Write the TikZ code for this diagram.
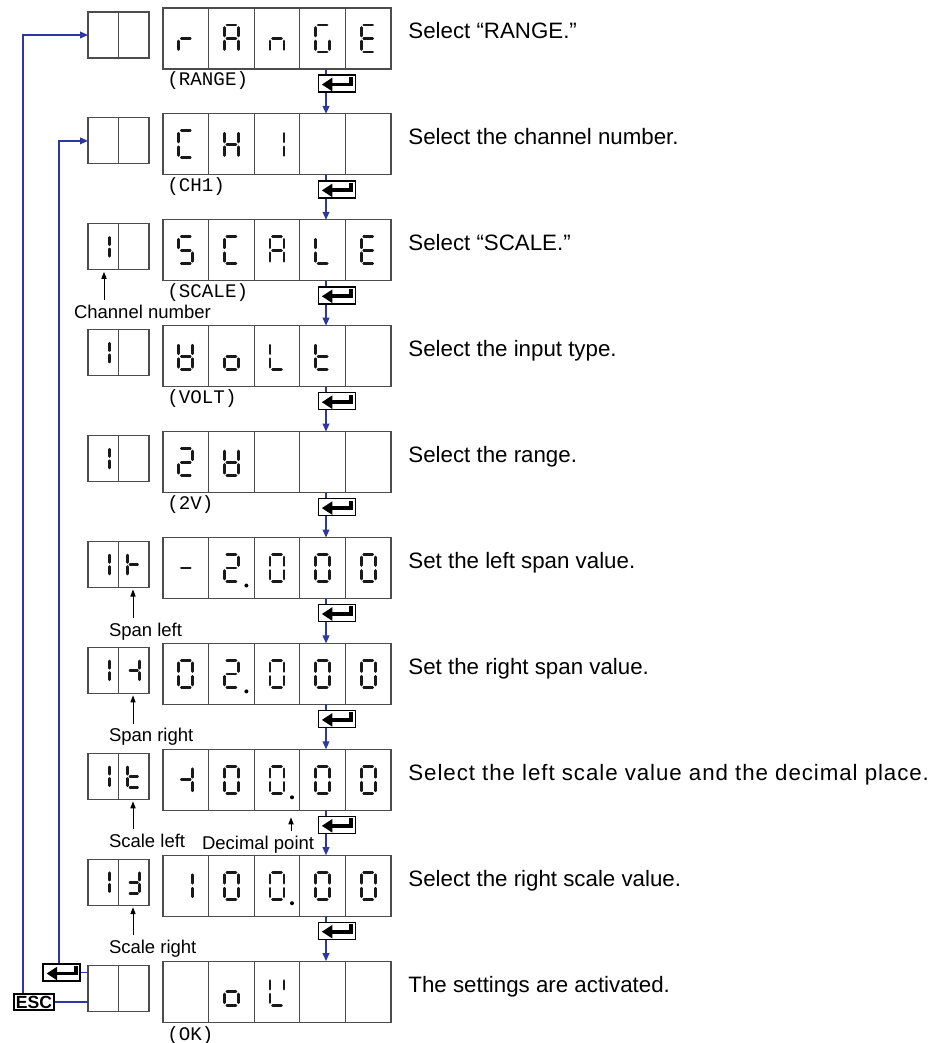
\documentclass[tikz,border=0pt]{standalone}
\usepackage{fontspec}
\setmainfont{Liberation Sans}
\setmonofont{Liberation Mono}
\usetikzlibrary{arrows.meta, positioning, calc}

\definecolor{flowblue}{RGB}{45,55,160}

% seven segment bars (pixel units, y down)
\newcommand{\dsega}{\draw[segbar] (-4.5,-13.5) -- (4.5,-13.5);}
\newcommand{\dsegb}{\draw[segbar] (7,-11) -- (7,-2.5);}
\newcommand{\dsegc}{\draw[segbar] (7,2.5) -- (7,11);}
\newcommand{\dsegd}{\draw[segbar] (-4.5,13.5) -- (4.5,13.5);}
\newcommand{\dsege}{\draw[segbar] (-7,2.5) -- (-7,11);}
\newcommand{\dsegf}{\draw[segbar] (-7,-11) -- (-7,-2.5);}
\newcommand{\dsegg}{\draw[segbar] (-4.5,0) -- (4.5,0);}
\newcommand{\dsegp}{\fill (15,17.5) circle (2);}
\newcommand{\segdigit}[3][1]{%
  \begin{scope}[shift={#2}, scale=#1]
    \edef\seglist{#3}
    \foreach \s in \seglist {\csname dseg\s\endcsname}
  \end{scope}}
% return key glyph
\newcommand{\enterglyph}[1]{%
  \begin{scope}[shift={(#1.center)}, x=1pt, y=1pt]
    \fill (-7.4,-0.5) -- (-2.2,2.9) -- (-2.2,-3.9) -- cycle;
    \draw[line width=1.9pt] (-2.5,-0.5) -- (7.2,-0.5) -- (7.2,3.3);
  \end{scope}}

\begin{document}
\begin{tikzpicture}[x=0.5pt, y=-0.5pt,
    display/.style={draw=black!70, line width=0.6pt, minimum width=114pt, minimum height=30.5pt, inner sep=0pt, outer sep=0pt},
    chbox/.style={draw=black!70, line width=0.6pt, minimum width=30.5pt, minimum height=23pt, inner sep=0pt, outer sep=0pt},
    cellline/.style={draw=black!70, line width=0.6pt},
    enterkey/.style={draw, fill=white, line width=0.7pt, minimum width=18.5pt, minimum height=8.5pt, inner sep=0pt},
    esckey/.style={draw, fill=white, line width=0.7pt, minimum width=20pt, minimum height=8pt, inner sep=0pt, font=\fontsize{8.8}{9}\selectfont\bfseries},
    segbar/.style={line width=1.4pt, line cap=round, black!90},
    instr/.style={anchor=base west, inner sep=0pt, font=\fontsize{11.15}{13}\selectfont},
    modelabel/.style={anchor=base west, inner sep=0pt, font=\fontsize{9.6}{11}\selectfont\ttfamily},
    tagtext/.style={anchor=base west, inner sep=0pt, outer sep=2pt, text height=0.72em, text depth=0.2em, font=\fontsize{9.25}{11}\selectfont},
    flow/.style={flowblue, line width=0.65pt},
    flowarrow/.style={flow, -{Triangle[length=4pt, width=3.4pt]}},
    tagarrow/.style={black, line width=0.5pt, -{Triangle[length=3.5pt, width=2.6pt]}}
]
    \useasboundingbox (0,0) rectangle (935,1043);

    % Displays, channel boxes and return keys
    \foreach \r in {1,...,10} {
        \pgfmathsetmacro\rowtop{8+105.9*(\r-1)}
        \node[display] (d\r) at (277,\rowtop+30.5) {};
        \node[chbox] (s\r) at (118.5,\rowtop+27) {};
        \foreach \k in {1,...,4}
            \draw[cellline] ($(d\r.north west)+(45.6*\k,0)$) -- ++(0,61);
        \draw[cellline] (s\r.north) -- (s\r.south);
        \ifnum\r<10
            \node[enterkey] (e\r) at (336.7,\rowtop+75.5) {};
            \enterglyph{e\r}
        \fi
    }

    % Instructions
    \foreach \r/\txt in {1/Select “RANGE.”, 2/Select the channel number., 3/Select “SCALE.”,
            4/Select the input type., 5/Select the range., 6/Set the left span value.,
            7/Set the right span value., 9/Select the right scale value., 10/The settings are activated.}
        \node[instr] (t\r) at (408,{8+105.9*(\r-1)+31}) {\txt};
    \node[instr, font=\fontsize{11.15}{13}\selectfont\addfontfeature{LetterSpace=4.2}] (t8) at (408,{8+105.9*7+31}) {Select the left scale value and the decimal place.};

    % Mode names under the displays
    \node[modelabel] (m1) at ($(d1.south west)+(4,17)$) {(RANGE)};
    \node[modelabel] (m2) at ($(d2.south west)+(4,17)$) {(CH1)};
    \node[modelabel] (m3) at ($(d3.south west)+(4,17)$) {(SCALE)};
    \node[modelabel] (m4) at ($(d4.south west)+(4,17)$) {(VOLT)};
    \node[modelabel] (m5) at ($(d5.south west)+(4,17)$) {(2V)};
    \node[modelabel] (m10) at ($(d10.south west)+(4,18)$) {(OK)};

    % Digits
    \foreach \k/\sg in {1/{e,g}, 2/{a,b,c,e,f,g}, 3/{c,e,g}, 4/{a,c,d,e,f}, 5/{a,d,e,f,g}}
        \segdigit{($(d1.west)+(45.6*\k-22.8,0)$)}{\sg};
    \foreach \k/\sg in {1/{a,d,e,f}, 2/{b,c,e,f,g}, 3/{b,c}}
        \segdigit{($(d2.west)+(45.6*\k-22.8,0)$)}{\sg};
    \foreach \k/\sg in {1/{a,c,d,f,g}, 2/{a,d,e,f}, 3/{a,b,c,e,f,g}, 4/{d,e,f}, 5/{a,d,e,f,g}}
        \segdigit{($(d3.west)+(45.6*\k-22.8,0)$)}{\sg};
    \foreach \k/\sg in {1/{b,c,d,e,f,g}, 2/{c,d,e,g}, 3/{d,e,f}, 4/{d,e,f,g}}
        \segdigit{($(d4.west)+(45.6*\k-22.8,0)$)}{\sg};
    \foreach \k/\sg in {1/{a,b,d,e,g}, 2/{b,c,d,e,f,g}}
        \segdigit{($(d5.west)+(45.6*\k-22.8,0)$)}{\sg};
    \foreach \k/\sg in {1/{g}, 2/{a,b,d,e,g,p}, 3/{a,b,c,d,e,f}, 4/{a,b,c,d,e,f}, 5/{a,b,c,d,e,f}}
        \segdigit{($(d6.west)+(45.6*\k-22.8,0)$)}{\sg};
    \foreach \k/\sg in {1/{a,b,c,d,e,f}, 2/{a,b,d,e,g,p}, 3/{a,b,c,d,e,f}, 4/{a,b,c,d,e,f}, 5/{a,b,c,d,e,f}}
        \segdigit{($(d7.west)+(45.6*\k-22.8,0)$)}{\sg};
    \foreach \k/\sg in {1/{b,c,g}, 2/{a,b,c,d,e,f}, 3/{a,b,c,d,e,f,p}, 4/{a,b,c,d,e,f}, 5/{a,b,c,d,e,f}}
        \segdigit{($(d8.west)+(45.6*\k-22.8,0)$)}{\sg};
    \foreach \k/\sg in {1/{b,c}, 2/{a,b,c,d,e,f}, 3/{a,b,c,d,e,f,p}, 4/{a,b,c,d,e,f}, 5/{a,b,c,d,e,f}}
        \segdigit{($(d9.west)+(45.6*\k-22.8,0)$)}{\sg};
    \foreach \k/\sg in {2/{c,d,e,g}, 3/{b,d,e,f}}
        \segdigit{($(d10.west)+(45.6*\k-22.8,0)$)}{\sg};

    % Channel box digits
    \foreach \r in {3,...,9}
        \segdigit[0.85]{($(s\r.west)+(15.25,0)$)}{b,c};
    \segdigit[0.85]{($(s6.west)+(45.75,0)$)}{e,f,g};
    \segdigit[0.85]{($(s7.west)+(45.75,0)$)}{b,c,g};
    \segdigit[0.85]{($(s8.west)+(45.75,0)$)}{d,e,f,g};
    \segdigit[0.85]{($(s9.west)+(45.75,0)$)}{b,c,d,g};

    % Main flow
    \coordinate (col) at (326,0);
    \foreach \r [evaluate=\r as \n using int(\r+1)] in {1,...,9} {
        \draw[flow] (d\r.south -| col) -- (e\r.north -| col);
        \draw[flowarrow] (e\r.south -| col) -- (d\n.north -| col);
    }

    % Pointer labels
    \coordinate (cella) at (104,0);
    \coordinate (cellb) at (133,0);
    \coordinate (dpx) at (291,0);
    \node[tagtext] (chno) at ($(s3.south west)+(-18,48.5)$) {Channel number};
    \node[tagtext] (spanl) at ($(s6.south west)+(17,48.5)$) {Span left};
    \node[tagtext] (spanr) at ($(s7.south west)+(17,48.5)$) {Span right};
    \node[tagtext] (scalel) at ($(s8.south west)+(17,48.5)$) {Scale left};
    \node[tagtext] (scaler) at ($(s9.south west)+(17,48.5)$) {Scale right};
    \node[tagtext] (decpt) at ($(s8.south west)+(110,50)$) {Decimal point};
    \draw[tagarrow] (chno.north -| cella) -- ([yshift=-1pt]s3.south -| cella);
    \draw[tagarrow] (spanl.north -| cellb) -- ([yshift=-1pt]s6.south -| cellb);
    \draw[tagarrow] (spanr.north -| cellb) -- ([yshift=-1pt]s7.south -| cellb);
    \draw[tagarrow] (scalel.north -| cellb) -- ([yshift=-1pt]s8.south -| cellb);
    \draw[tagarrow] (scaler.north -| cellb) -- ([yshift=-1pt]s9.south -| cellb);
    \draw[tagarrow] (decpt.north -| dpx) -- ([yshift=-3.5pt]d8.south -| dpx);

    % Return and escape keys
    \node[enterkey] (ek) at (61.5,972.5) {};
    \enterglyph{ek}
    \node[esckey] (esc) at (34,1002) {ESC};
    \draw[flow] (ek.east) -- (ek.east -| s10.west);
    \draw[flow] (esc.east) -- (esc.east -| s10.west);
    \draw[flowarrow] ([xshift=-1.25pt]ek.north) |- (s2.west);
    \draw[flowarrow] ([xshift=-5.5pt]esc.north) |- (s1.west);
\end{tikzpicture}
\end{document}
